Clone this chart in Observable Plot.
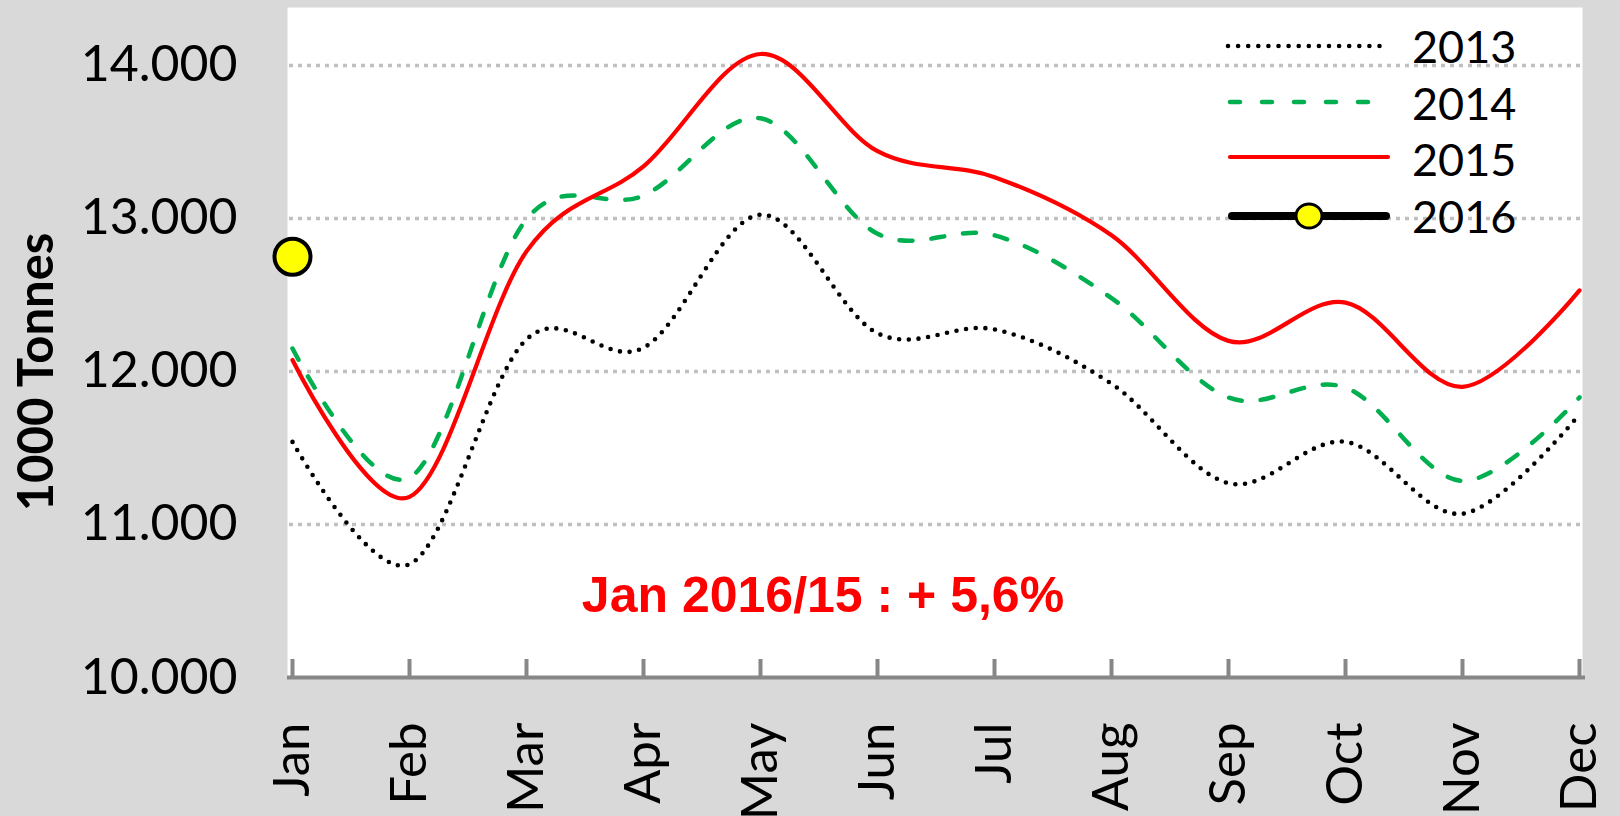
<!DOCTYPE html>
<html>
<head>
<meta charset="utf-8">
<script src="https://cdn.jsdelivr.net/npm/d3@7"></script>
<script src="https://cdn.jsdelivr.net/npm/@observablehq/plot@0.6"></script>
<style>
  html, body { margin: 0; padding: 0; background: #d9d9d9; }
  #wrap { position: relative; width: 1620px; height: 816px; overflow: hidden; background: #d9d9d9; }
  #overlay { position: absolute; left: 0; top: 0; pointer-events: none; }
  #chart svg { display: block; }
</style>
</head>
<body>
<div id="wrap">
  <div id="chart"></div>
  <svg id="overlay" width="1620" height="816" xmlns="http://www.w3.org/2000/svg"></svg>
</div>
<script>
// ---- Data ----
const months = ["Jan", "Feb", "Mar", "Apr", "May", "Jun", "Jul", "Aug", "Sep", "Oct", "Nov", "Dec"];
const values2013 = [11540, 10740, 12210, 12155, 13025, 12250, 12275, 11920, 11270, 11540, 11070, 11720];
const values2014 = [12150, 11305, 12995, 13150, 13655, 12900, 12890, 12480, 11830, 11895, 11285, 11830];
const values2015 = [12075, 11180, 12785, 13340, 14075, 13440, 13270, 12890, 12200, 12450, 11900, 12530];
const values2016 = [12750];
const yTicks = [10000, 11000, 12000, 13000, 14000];
const gridTicks = [11000, 12000, 13000, 14000];
const seriesNames = ["2013", "2014", "2015", "2016"];
const yTitle = "1000 Tonnes";
const note = "Jan 2016/15 : + 5,6%";

const rows = (vals, year) => vals.map((v, i) => ({month: months[i], value: v, year}));
const fmt = d => d3.format(",")(d).replace(/,/g, ".");

const chart = Plot.plot({
  width: 1620,
  height: 816,
  marginLeft: 289,
  marginRight: 38,
  marginTop: 7,
  marginBottom: 139,
  style: {background: "transparent", fontFamily: "Lato, sans-serif", color: "black"},
  x: {type: "point", domain: months, padding: 0},
  y: {domain: [10000, 14379]},
  marks: [
    Plot.frame({fill: "white", stroke: null, insetLeft: -2}),
    Plot.ruleY(gridTicks, {stroke: "#c0c0c0", strokeWidth: 3.5, strokeDasharray: "4,5"}),
    Plot.ruleY([10000], {stroke: "#878787", strokeWidth: 4, insetLeft: -2, insetRight: -3}),
    Plot.tickX(months, {x: d => d, stroke: "#878787", strokeWidth: 4, insetTop: 652}),
    Plot.axisY(yTicks, {tickSize: 0, tickPadding: 52, tickFormat: fmt, fontSize: 50, label: null, fill: "black"}),
    Plot.axisX({tickSize: 0, tickRotate: -90, tickPadding: 45, fontSize: 51, label: null, fill: "black"}),
    Plot.line(rows(values2013, seriesNames[0]), {x: "month", y: "value", curve: "cardinal", stroke: "black", strokeWidth: 4.6, strokeDasharray: "0,9.7", strokeLinecap: "round"}),
    Plot.line(rows(values2014, seriesNames[1]), {x: "month", y: "value", curve: "cardinal", stroke: "#00b050", strokeWidth: 4.5, strokeDasharray: "13,19", strokeLinecap: "round"}),
    Plot.line(rows(values2015, seriesNames[2]), {x: "month", y: "value", curve: "cardinal", stroke: "#ff0000", strokeWidth: 4.2}),
    Plot.dot(rows(values2016, seriesNames[3]), {x: "month", y: "value", r: 18, fill: "#ffff00", stroke: "black", strokeWidth: 4})
  ]
});
document.getElementById("chart").appendChild(chart);

// ---- Overlay: legend, axis title, note ----
const ov = d3.select("#overlay");
const legendY = [46, 102, 157, 216];
const legendBase = [63, 120, 176, 233];
const lg = ov.append("g");
// 2013 dotted
lg.append("line").attr("x1", 1228).attr("x2", 1380).attr("y1", legendY[0]).attr("y2", legendY[0])
  .attr("stroke", "black").attr("stroke-width", 4.6).attr("stroke-dasharray", "0,10.1").attr("stroke-linecap", "round");
// 2014 dashed
lg.append("line").attr("x1", 1230).attr("x2", 1390).attr("y1", legendY[1]).attr("y2", legendY[1])
  .attr("stroke", "#00b050").attr("stroke-width", 4.5).attr("stroke-dasharray", "10,22").attr("stroke-linecap", "round");
// 2015 solid
lg.append("line").attr("x1", 1230).attr("x2", 1388).attr("y1", legendY[2]).attr("y2", legendY[2])
  .attr("stroke", "#ff0000").attr("stroke-width", 4.2).attr("stroke-linecap", "round");
// 2016 thick + marker
lg.append("line").attr("x1", 1232).attr("x2", 1386).attr("y1", legendY[3]).attr("y2", legendY[3])
  .attr("stroke", "black").attr("stroke-width", 8).attr("stroke-linecap", "round");
lg.append("ellipse").attr("cx", 1309).attr("cy", legendY[3]).attr("rx", 13).attr("ry", 12)
  .attr("fill", "#ffff00").attr("stroke", "black").attr("stroke-width", 3);
seriesNames.forEach((s, i) => {
  lg.append("text").attr("x", 1412).attr("y", legendBase[i]).text(s)
    .attr("font-family", "Lato, sans-serif").attr("font-size", 45).attr("fill", "black");
});
// y title
ov.append("text").attr("transform", "translate(53,372) rotate(-90)").attr("text-anchor", "middle")
  .attr("font-family", "Lato, sans-serif").attr("font-weight", "bold").attr("font-size", 49).attr("fill", "black")
  .text(yTitle);
// note
ov.append("text").attr("x", 823).attr("y", 612).attr("text-anchor", "middle")
  .attr("font-family", "'Liberation Sans', Arial, sans-serif").attr("font-weight", "bold").attr("font-size", 50)
  .attr("fill", "#ff0000").text(note);
</script>
</body>
</html>
